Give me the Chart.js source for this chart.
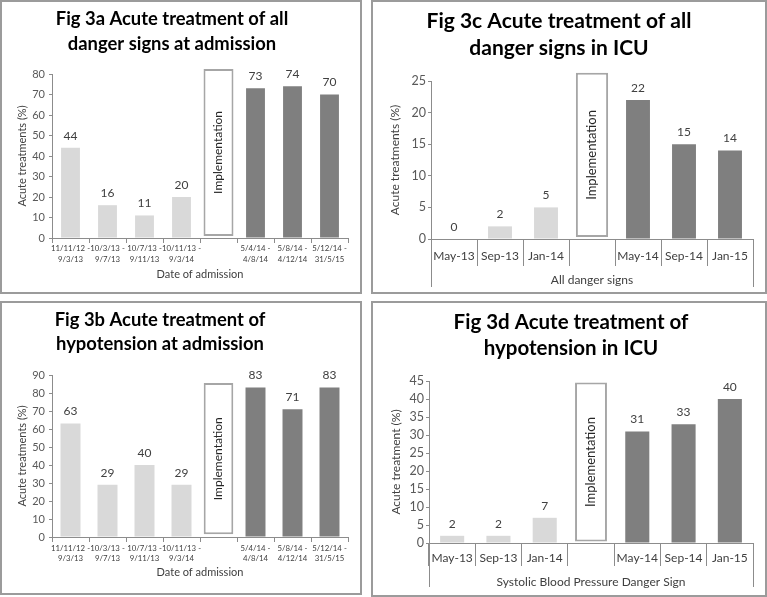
<!DOCTYPE html>
<html>
<head>
<meta charset="utf-8">
<title>Fig 3 Acute treatment of danger signs</title>
<script src="https://cdn.jsdelivr.net/npm/chart.js@4.4.0/dist/chart.umd.min.js"></script>
<style>
  body { margin: 0; background: #fff; width: 767px; height: 597px; position: relative; overflow: hidden; }
  .panel { position: absolute; box-sizing: border-box; border: 2px solid #9b9b9b; overflow: hidden; background: #fff; }
  .panel canvas { position: absolute; top: 0; }
</style>
</head>
<body>

<div class="panel" style="left:0;top:0;width:362px;height:294px"><canvas id="fig3a"></canvas></div>
<div class="panel" style="left:371px;top:0;width:396px;height:294px"><canvas id="fig3c"></canvas></div>
<div class="panel" style="left:0;top:301px;width:362px;height:294px"><canvas id="fig3b"></canvas></div>
<div class="panel" style="left:371px;top:301px;width:396px;height:296px"><canvas id="fig3d"></canvas></div>

<script>
// -----------------------------
// DATA
// -----------------------------
const admissionPeriods = [
    ["11/11/12 -", "9/3/13"], ["10/3/13 -", "9/7/13"], ["10/7/13 -", "9/11/13"], ["10/11/13 -", "9/3/14"],
    "",
    ["5/4/14 -", "4/8/14"], ["5/8/14 -", "4/12/14"], ["5/12/14 -", "31/5/15"]
];
const icuMonths = ["May-13", "Sep-13", "Jan-14", "", "May-14", "Sep-14", "Jan-15"];

// Fig 3a - all danger signs at admission
const fig3aBefore = [44, 16, 11, 20, null, null, null, null];
const fig3aAfter = [null, null, null, null, null, 73, 74, 70];
const fig3aBox = [null, null, null, null, [1, 82.5], null, null, null];

// Fig 3b - hypotension at admission
const fig3bBefore = [63, 29, 40, 29, null, null, null, null];
const fig3bAfter = [null, null, null, null, null, 83, 71, 83];
const fig3bBox = [null, null, null, null, [1.5, 85.5], null, null, null];

// Fig 3c - all danger signs in ICU
const fig3cBefore = [0, 2, 5, null, null, null, null];
const fig3cAfter = [null, null, null, null, 22, 15, 14];
const fig3cBox = [null, null, null, [0.3, 26.3], null, null, null];

// Fig 3d - hypotension in ICU
const fig3dBefore = [2, 2, 7, null, null, null, null];
const fig3dAfter = [null, null, null, null, 31, 33, 40];
const fig3dBox = [null, null, null, [0.4, 44.6], null, null, null];

// y axis ranges (max, step)
const fig3aAxis = [80, 10];
const fig3bAxis = [90, 10];
const fig3cAxis = [25, 5];
const fig3dAxis = [45, 5];

const LIGHT = "#d9d9d9";
const DARK = "#7f7f7f";
const AXIS = "#8c8c8c";
const TEXT = "#595959";
const LABEL = "#404040";

Chart.defaults.font.family = "Lato, 'Open Sans', sans-serif";


// -----------------------------
// PLUGINS
// -----------------------------
const valueLabels = {
    id: "valueLabels",
    afterDatasetsDraw(chart, args, opts) {
        const ctx = chart.ctx;
        chart.data.datasets.forEach((ds, i) => {
            chart.getDatasetMeta(i).data.forEach((bar, j) => {
                const v = ds.data[j];
                if (v === null || v === undefined) return;
                ctx.save();
                ctx.textAlign = "center";
                ctx.textBaseline = "middle";
                if (ds.boxText) {
                    ctx.translate(bar.x, (bar.y + bar.base) / 2);
                    ctx.rotate(-Math.PI / 2);
                    ctx.font = opts.boxSize + "px Lato";
                    ctx.fillStyle = "#262626";
                    ctx.fillText(ds.boxText, 0, 0);
                } else {
                    ctx.font = opts.size + "px Lato";
                    ctx.fillStyle = LABEL;
                    ctx.fillText(String(v), bar.x, bar.y - 12);
                }
                ctx.restore();
            });
        });
    }
};

// outer lines of the grouped category axis
const groupLines = {
    id: "groupLines",
    afterDraw(chart, args, opts) {
        if (!opts.extent) return;
        const x = chart.scales.x;
        const ctx = chart.ctx;
        ctx.save();
        ctx.strokeStyle = AXIS;
        ctx.lineWidth = 1;
        [x.left, x.right].forEach(px => {
            const xx = Math.round(px) + 0.5;
            ctx.beginPath();
            ctx.moveTo(xx, x.top);
            ctx.lineTo(xx, x.top + opts.extent);
            ctx.stroke();
        });
        ctx.restore();
    }
};


// -----------------------------
// BUILD ONE PANEL
// -----------------------------
function buildChart(id, p) {
    const canvas = document.getElementById(id);
    canvas.width = p.w;
    canvas.height = p.h;
    canvas.style.left = p.left + "px";

    return new Chart(canvas, {
        type: "bar",
        data: {
            labels: p.labels,
            datasets: [
                { data: p.before, backgroundColor: LIGHT, barPercentage: p.barPct, categoryPercentage: 1, grouped: false },
                { data: p.after, backgroundColor: DARK, barPercentage: p.barPct, categoryPercentage: 1, grouped: false },
                {
                    data: p.box, backgroundColor: "#ffffff", borderColor: "#a6a6a6", borderWidth: 2,
                    borderSkipped: false, barPercentage: p.boxPct, categoryPercentage: 1, grouped: false,
                    clip: false, boxText: "Implementation"
                }
            ]
        },
        options: {
            responsive: false,
            animation: false,
            layout: { padding: { left: 0, right: 12, top: 0, bottom: 0 } },
            plugins: {
                legend: { display: false },
                tooltip: { enabled: false },
                title: {
                    display: true,
                    text: p.title,
                    color: "#000",
                    font: { size: p.titleSize, weight: "bold", lineHeight: p.titleLH + "px" },
                    padding: { top: p.titleTop, bottom: p.titleBottom }
                },
                valueLabels: { size: p.valueSize, boxSize: p.boxFont },
                groupLines: { extent: p.groupExtent }
            },
            scales: {
                x: {
                    afterFit: s => { s.height = p.xHeight; },
                    grid: { offset: true, drawOnChartArea: false, tickLength: p.xTickLen, color: AXIS },
                    border: { color: AXIS },
                    ticks: {
                        autoSkip: false, maxRotation: 0, padding: p.xTickPad, color: p.xColor,
                        font: { size: p.xFont, lineHeight: p.xLH }
                    },
                    title: {
                        display: true, text: p.xTitle, color: LABEL,
                        font: { size: p.xTitleSize }, padding: { top: 0, bottom: p.xTitlePad }
                    }
                },
                y: {
                    min: 0,
                    max: p.axis[0],
                    afterFit: s => { s.width = p.yWidth; },
                    grid: { drawOnChartArea: false, tickLength: 3, color: AXIS },
                    border: { color: AXIS },
                    ticks: { stepSize: p.axis[1], padding: p.yTickPad, color: TEXT, font: { size: p.yFont } },
                    title: {
                        display: true, text: p.yTitle, color: LABEL,
                        font: { size: p.yTitleSize }, padding: { top: p.yTitlePad, bottom: 0 }
                    }
                }
            }
        },
        plugins: [valueLabels, groupLines]
    });
}


// -----------------------------
// INIT
// -----------------------------
window.onload = function () {

    buildChart("fig3a", {
        left: -6, w: 364, h: 290,
        labels: admissionPeriods, before: fig3aBefore, after: fig3aAfter, box: fig3aBox, axis: fig3aAxis,
        barPct: 0.51, boxPct: 0.81,
        title: ["Fig 3a Acute treatment of all", "danger signs at admission"],
        titleSize: 18.4, titleLH: 24.5, titleTop: 5, titleBottom: 18,
        valueSize: 12, boxFont: 12,
        xHeight: 54, xTickLen: 5, xTickPad: 0, xFont: 7.8, xLH: 1.38, xColor: LABEL,
        xTitle: "Date of admission", xTitleSize: 11, xTitlePad: 11.4,
        yWidth: 56, yTickPad: 4, yFont: 11,
        yTitle: "Acute treatments (%)", yTitleSize: 11, yTitlePad: 19.4,
        groupExtent: 0
    });

    buildChart("fig3b", {
        left: -30, w: 388, h: 290,
        labels: admissionPeriods, before: fig3bBefore, after: fig3bAfter, box: fig3bBox, axis: fig3bAxis,
        barPct: 0.54, boxPct: 0.8,
        title: ["Fig 3b Acute treatment of", "hypotension at admission"],
        titleSize: 18.4, titleLH: 24.5, titleTop: 4.75, titleBottom: 18.25,
        valueSize: 12, boxFont: 12,
        xHeight: 56, xTickLen: 5, xTickPad: 0.6, xFont: 7.8, xLH: 1.38, xColor: LABEL,
        xTitle: "Date of admission", xTitleSize: 11, xTitlePad: 14.4,
        yWidth: 80, yTickPad: 4, yFont: 11,
        yTitle: "Acute treatments (%)", yTitleSize: 11, yTitlePad: 43.4,
        groupExtent: 0
    });

    buildChart("fig3c", {
        left: -8, w: 400, h: 290,
        labels: icuMonths, before: fig3cBefore, after: fig3cAfter, box: fig3cBox, axis: fig3cAxis,
        barPct: 0.52, boxPct: 0.7,
        title: ["Fig 3c Acute treatment of all", "danger signs in ICU"],
        titleSize: 21, titleLH: 27, titleTop: 5.5, titleBottom: 19.5,
        valueSize: 12, boxFont: 13,
        xHeight: 53, xTickLen: 27, xTickPad: -17.2, xFont: 12, xLH: 1.2, xColor: LABEL,
        xTitle: "All danger signs", xTitleSize: 12, xTitlePad: 4.8,
        yWidth: 66, yTickPad: 2, yFont: 12.5,
        yTitle: "Acute treatments (%)", yTitleSize: 12, yTitlePad: 22.8,
        groupExtent: 48
    });

    buildChart("fig3d", {
        left: 16, w: 376, h: 292,
        labels: icuMonths, before: fig3dBefore, after: fig3dAfter, box: fig3dBox, axis: fig3dAxis,
        barPct: 0.52, boxPct: 0.69,
        title: ["Fig 3d Acute treatment of", "hypotension in ICU"],
        titleSize: 20.5, titleLH: 26, titleTop: 6, titleBottom: 20,
        valueSize: 12, boxFont: 13,
        xHeight: 52, xTickLen: 23, xTickPad: -15.2, xFont: 12, xLH: 1.2, xColor: LABEL,
        xTitle: "Systolic Blood Pressure Danger Sign", xTitleSize: 12, xTitlePad: 5.8,
        yWidth: 40, yTickPad: 2, yFont: 12.5,
        yTitle: "Acute treatment (%)", yTitleSize: 12, yTitlePad: 0,
        groupExtent: 44
    });
};
</script>
</body>
</html>
